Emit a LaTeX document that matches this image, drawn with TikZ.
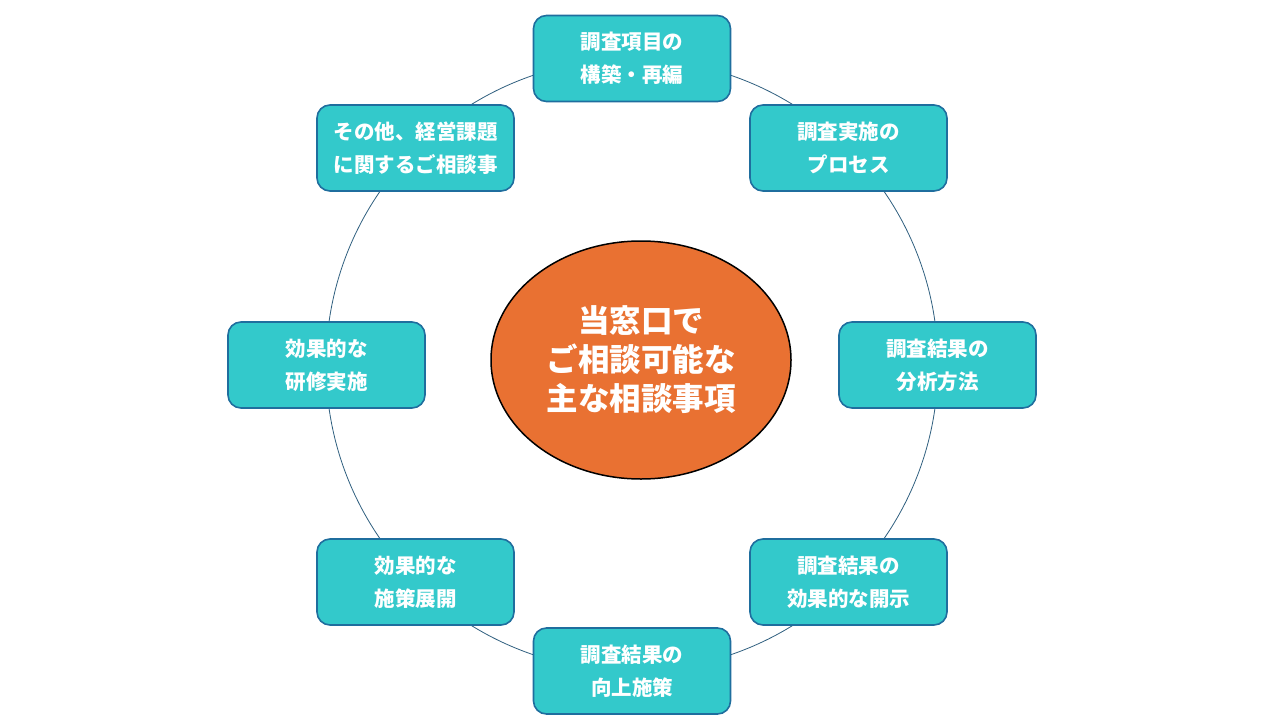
\documentclass[tikz,border=0pt]{standalone}
\usepackage{fontspec}
\setmainfont{Noto Sans CJK JP}
\usetikzlibrary{shapes.geometric}

\definecolor{itemfill}{HTML}{33C9CB}
\definecolor{itemline}{HTML}{1F6E9E}
\definecolor{hubfill}{HTML}{E97132}
\definecolor{ringline}{HTML}{2F5F7F}

\tikzset{
    item/.style={draw=itemline, line width=1.6pt, fill=itemfill,
        rounded corners=13pt, minimum width=197pt, minimum height=86pt,
        inner sep=0pt, align=center, text=white,
        font=\fontsize{20.5}{33}\selectfont\bfseries},
    hub/.style={ellipse, draw=black, line width=1.5pt, fill=hubfill,
        minimum width=300pt, minimum height=238pt, inner sep=0pt,
        align=center, text=white,
        font=\fontsize{31.5}{39}\selectfont\bfseries}
}

\begin{document}
\begin{tikzpicture}[x=1pt, y=-1pt]

    \useasboundingbox (0,0) rectangle (1280,720);

    % ============================================================
    % RING
    % ============================================================
    \coordinate (ringc) at (632,365);
    \draw[ringline, line width=0.8pt] (ringc) circle[radius=306pt];

    % ============================================================
    % CENTRAL TOPIC
    % ============================================================
    \node[hub] (hub) at (641,360) {当窓口で\\ご相談可能な\\主な相談事項};

    % ============================================================
    % CONSULTATION ITEMS (clockwise from top)
    % ============================================================
    \node[item] (design)  at (632,58.5)  {調査項目の\\構築・再編};
    \node[item] (process) at (848.5,148) {調査実施の\\プロセス};
    \node[item] (analyse) at (937.5,365) {調査結果の\\分析方法};
    \node[item] (publish) at (848.5,582) {調査結果の\\効果的な開示};
    \node[item] (improve) at (632,671)   {調査結果の\\向上施策};
    \node[item] (measure) at (415.5,582) {効果的な\\施策展開};
    \node[item] (train)   at (326.5,365) {効果的な\\研修実施};
    \node[item] (other)   at (415.5,148) {その他、経営課題\\に関するご相談事};

\end{tikzpicture}
\end{document}
